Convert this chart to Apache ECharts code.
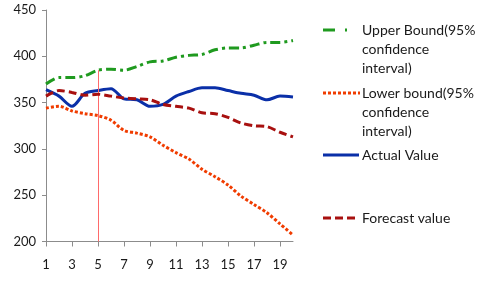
<!DOCTYPE html>
<html>
<head>
<meta charset="utf-8">
<script src="https://cdn.jsdelivr.net/npm/echarts@6/dist/echarts.min.js"></script>
<style>
html,body{margin:0;padding:0;background:#fff;}
#c{width:485px;height:285px;}
</style>
</head>
<body>
<div id="c"></div>
<script>
var categories = ['1','2','3','4','5','6','7','8','9','10','11','12','13','14','15','16','17','18','19','20'];
var upperBound = [370, 377, 377, 379, 385, 386, 385, 389, 394, 395, 399, 401, 402, 407, 409, 409, 412, 415, 415, 417];
var lowerBound = [344, 346, 341, 338, 336, 331, 320, 317, 313, 304, 296, 289, 278, 270, 261, 249, 240, 231, 219, 207];
var actualValue = [364, 357, 346, 360, 363, 365, 354, 353, 346, 348, 357, 362, 366, 366, 363, 360, 358, 353, 357, 356];
var forecastValue = [357, 363, 361, 358, 359, 357, 355, 354, 353, 348, 346, 344, 339, 338, 334, 328, 325, 324, 318, 313];
var markerIndex = 4; // category "5"
var yTicks = {min: 200, max: 450, interval: 50};

var names = {
  upper: 'Upper Bound(95%\nconfidence\ninterval)',
  lower: 'Lower bound(95%\nconfidence\ninterval)',
  actual: 'Actual Value',
  forecast: 'Forecast value'
};

var FONT = 'Lato';
var cGreen = '#1f9a1f', cOrange = '#f03c00', cBlue = '#0a2fa8', cDark = '#a8100f';

var chart = echarts.init(document.getElementById('c'));

function legendText(x, y, lines) {
  return lines.map(function (t, i) {
    return {type: 'text', x: x, y: y + i * 19, style: {text: t, font: '14px ' + FONT, fill: '#1a1a1a', verticalAlign: 'middle'}};
  });
}

var graphics = [
  {type: 'line', shape: {x1: 323, y1: 30, x2: 335, y2: 30}, style: {stroke: cGreen, lineWidth: 3}},
  {type: 'line', shape: {x1: 345, y1: 30, x2: 347, y2: 30}, style: {stroke: cGreen, lineWidth: 3}},
  {type: 'line', shape: {x1: 323, y1: 93, x2: 360, y2: 93}, style: {stroke: cOrange, lineWidth: 3, lineDash: [3, 2]}},
  {type: 'line', shape: {x1: 323, y1: 155, x2: 359, y2: 155}, style: {stroke: cBlue, lineWidth: 3}},
  {type: 'line', shape: {x1: 323, y1: 218, x2: 359, y2: 218}, style: {stroke: cDark, lineWidth: 3, lineDash: [8, 4]}}
].concat(legendText(362, 30, names.upper.split('\n')))
 .concat(legendText(362, 93, names.lower.split('\n')))
 .concat(legendText(362, 155, [names.actual]))
 .concat(legendText(362, 218, [names.forecast]));

chart.setOption({
  animation: false,
  backgroundColor: '#fff',
  grid: {left: 46, right: 192, top: 10, bottom: 43.5, containLabel: false},
  xAxis: {
    type: 'category',
    data: categories,
    boundaryGap: false,
    axisLine: {lineStyle: {color: '#8c8c8c', width: 1}},
    axisTick: {interval: 1, length: 5, lineStyle: {color: '#8c8c8c'}},
    axisLabel: {interval: 1, margin: 17, fontFamily: FONT, fontSize: 13, color: '#1a1a1a'},
    splitLine: {show: false}
  },
  yAxis: {
    type: 'value',
    min: yTicks.min, max: yTicks.max, interval: yTicks.interval,
    axisLine: {show: true, lineStyle: {color: '#8c8c8c', width: 1}},
    axisTick: {show: true, length: 4, lineStyle: {color: '#8c8c8c'}},
    axisLabel: {margin: 10, fontFamily: FONT, fontSize: 13, color: '#1a1a1a'},
    splitLine: {show: false}
  },
  series: [
    {
      name: names.upper, type: 'line', data: upperBound, smooth: 0.3, symbol: 'none',
      lineStyle: {color: cGreen, width: 3, type: [10, 4, 3, 4]},
      markLine: {
        silent: true, symbol: 'none', label: {show: false},
        lineStyle: {color: '#ff6a6a', width: 1, type: 'solid'},
        data: [[{coord: [markerIndex, upperBound[markerIndex]]}, {coord: [markerIndex, yTicks.min]}]]
      },
      z: 2
    },
    {
      name: names.lower, type: 'line', data: lowerBound, smooth: 0.3, symbol: 'none',
      lineStyle: {color: cOrange, width: 3, type: [3, 2]}, z: 3
    },
    {
      name: names.actual, type: 'line', data: actualValue, smooth: 0.3, symbol: 'none',
      lineStyle: {color: cBlue, width: 3, type: 'solid'}, z: 4
    },
    {
      name: names.forecast, type: 'line', data: forecastValue, smooth: 0.3, symbol: 'none',
      lineStyle: {color: cDark, width: 3, type: [8, 4]}, z: 5
    }
  ],
  graphic: graphics
});
</script>
</body>
</html>
